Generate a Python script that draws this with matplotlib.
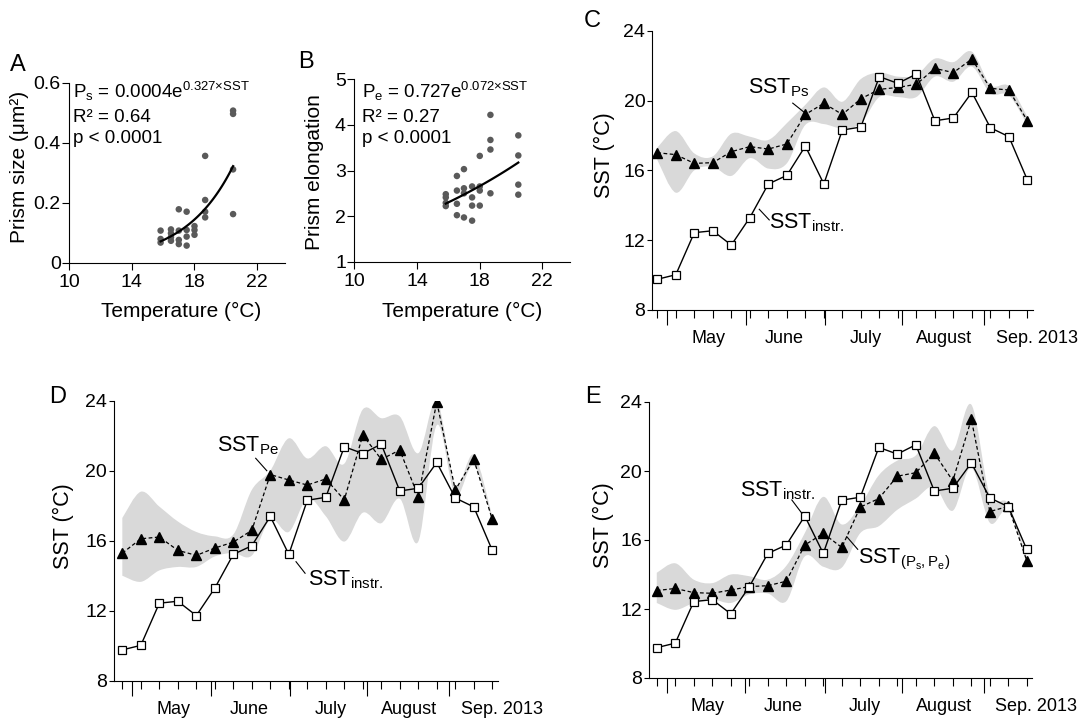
import numpy as np
import matplotlib
matplotlib.use("Agg")
import matplotlib.pyplot as plt
from matplotlib.path import Path
from matplotlib.patches import PathPatch

plt.rcParams['font.family'] = ['Liberation Sans', 'DejaVu Sans']
plt.rcParams['mathtext.fontset'] = 'custom'
plt.rcParams['mathtext.rm'] = 'Liberation Sans'
plt.rcParams['mathtext.it'] = 'Liberation Sans'
plt.rcParams['mathtext.bf'] = 'Liberation Sans:bold'
plt.rcParams['mathtext.default'] = 'regular'

# --- prism size / elongation vs. temperature ---
temp_size = [15.84, 15.84, 15.84, 16.5, 16.5, 16.5, 16.5, 17.0, 17.0, 17.0, 17.0,
             17.5, 17.5, 17.5, 17.5, 18.0, 18.0, 18.0, 18.68, 18.68, 18.68, 18.68,
             20.46, 20.46, 20.46, 20.46]
prism_size = [0.107, 0.079, 0.067, 0.111, 0.098, 0.085, 0.073, 0.178, 0.107, 0.076, 0.062,
              0.170, 0.109, 0.087, 0.057, 0.122, 0.109, 0.093, 0.356, 0.209, 0.170, 0.151,
              0.507, 0.496, 0.311, 0.162]

temp_elong = [15.84, 15.84, 15.84, 15.84, 16.55, 16.55, 16.55, 16.55, 17.0, 17.0, 17.0, 17.0,
              17.52, 17.52, 17.52, 17.52, 18.01, 18.01, 18.01, 18.01, 18.69, 18.69, 18.69, 18.69,
              20.47, 20.47, 20.47, 20.47]
prism_elong = [2.48, 2.41, 2.29, 2.22, 2.88, 2.56, 2.27, 2.02, 3.03, 2.61, 2.50, 1.97,
               2.65, 2.41, 2.23, 1.90, 3.32, 2.65, 2.56, 2.23, 4.22, 3.67, 3.46, 2.50,
               3.77, 3.33, 2.69, 2.47]

# exponential fits: P = a * exp(b * SST)
fit_size = (0.0004, 0.327)
fit_elong = (0.727, 0.072)

# --- weekly SST series, April - September 2013 ---
weeks = np.arange(21)
sst_instr = [9.76, 10.02, 12.43, 12.54, 11.72, 13.29, 15.22, 15.71, 17.39, 15.22, 18.31,
             18.48, 21.37, 20.98, 21.52, 18.84, 19.00, 20.47, 18.44, 17.93, 15.45]

sst_ps = [17.01, 16.90, 16.40, 16.44, 17.07, 17.36, 17.22, 17.51, 19.20, 19.84, 19.20,
          20.10, 20.64, 20.75, 20.93, 21.84, 21.60, 22.38, 20.70, 20.60, 18.84]
ps_hi = [17.30, 18.25, 16.97, 16.80, 18.10, 17.93, 17.74, 18.70, 19.75, 20.75, 19.93,
         21.23, 21.60, 21.37, 21.46, 22.40, 22.20, 22.80, 20.89, 20.83, 19.07]
ps_lo = [16.60, 14.72, 16.00, 16.20, 15.68, 16.70, 16.10, 16.40, 18.60, 18.65, 18.40,
         18.70, 20.20, 20.20, 20.20, 21.37, 21.08, 21.94, 20.41, 20.30, 18.60]

sst_pe = [15.29, 16.11, 16.21, 15.45, 15.16, 15.58, 15.92, 16.59, 19.78, 19.47, 19.18,
          19.53, 18.33, 22.04, 20.65, 21.18, 18.52, 23.94, 18.90, 20.65, 17.22]
pe_hi = [17.30, 18.80, 17.95, 17.10, 16.50, 16.25, 16.35, 18.90, 20.00, 21.85, 20.70,
         21.40, 20.40, 23.50, 23.00, 23.10, 21.00, 24.00, 19.20, 20.90, 17.40]
pe_lo = [14.00, 13.65, 14.30, 14.50, 14.50, 15.10, 15.30, 15.15, 17.20, 16.50, 18.40,
         17.40, 15.95, 17.60, 17.00, 18.40, 15.95, 22.60, 18.60, 20.30, 17.10]

sst_pspe = [13.07, 13.19, 12.95, 12.91, 13.10, 13.30, 13.35, 13.61, 15.71, 16.38, 15.57,
            17.91, 18.40, 19.70, 19.90, 21.03, 19.43, 23.00, 17.65, 17.95, 14.79]
pspe_hi = [14.10, 14.65, 13.70, 13.50, 14.00, 13.90, 13.70, 14.50, 16.40, 18.50, 16.90,
           18.00, 19.75, 20.60, 20.90, 22.60, 21.20, 23.85, 18.60, 18.10, 15.00]
pspe_lo = [12.35, 11.95, 12.35, 12.55, 12.35, 12.85, 12.90, 12.45, 15.05, 14.45, 14.40,
           16.40, 16.80, 17.75, 18.40, 19.10, 17.70, 20.20, 17.00, 17.70, 14.60]

month_edges = [0.54, 4.77, 9.09, 13.25, 17.68]
month_names = ['May', 'June', 'July', 'August', 'Sep. 2013']
month_mid = [2.75, 6.85, 11.25, 15.5, 20.5]

W, H = 1081, 722
fig = plt.figure(figsize=(W / 100, H / 100), dpi=100)


def px_axes(left, right, top, bottom):
    ax = fig.add_axes([left / W, 1 - bottom / H, (right - left) / W, (bottom - top) / H])
    for s in ('top', 'right'):
        ax.spines[s].set_visible(False)
    for s in ('left', 'bottom'):
        ax.spines[s].set_linewidth(0.8)
    ax.tick_params(direction='out', width=0.8, length=3.5, labelsize=14, pad=1.5)
    return ax


def smooth_band(ax, x, lo, hi, color='#d9d9d9'):
    # closed Catmull-Rom outline through the upper and lower limits
    def bezier(pts):
        verts, codes = [], []
        n = len(pts)
        for k in range(n - 1):
            p0 = pts[max(k - 1, 0)]
            p1 = pts[k]
            p2 = pts[k + 1]
            p3 = pts[min(k + 2, n - 1)]
            verts += [p1 + (p2 - p0) / 6, p2 - (p3 - p1) / 6, p2]
            codes += [Path.CURVE4] * 3
        return verts, codes

    top = np.column_stack([x, hi]).astype(float)
    bot = np.column_stack([x, lo]).astype(float)[::-1]
    v1, c1 = bezier(top)
    v2, c2 = bezier(bot)
    verts = [top[0]] + v1 + [bot[0]] + v2 + [top[0]]
    codes = [Path.MOVETO] + c1 + [Path.LINETO] + c2 + [Path.CLOSEPOLY]
    ax.add_patch(PathPatch(Path(verts, codes), facecolor=color, edgecolor='none', zorder=1))


def time_panel(ax, proxy, lo, hi, xlim):
    smooth_band(ax, weeks, lo, hi)
    ax.plot(weeks, proxy, color='k', lw=0.9, ls=(0, (3, 2)), marker='^', ms=6.5,
            mfc='k', mec='k', zorder=3)
    ax.plot(weeks, sst_instr, color='k', lw=1.0, marker='s', ms=5.5, mfc='white',
            mec='k', mew=0.9, zorder=4)
    ax.set_xlim(*xlim)
    ax.set_ylim(8, 24)
    ax.set_yticks([8, 12, 16, 20, 24])
    ax.set_xticks(month_edges)
    ax.set_xticklabels([])
    ax.set_xticks(weeks, minor=True)
    ax.tick_params(axis='x', which='major', length=11, width=0.8)
    ax.tick_params(axis='x', which='minor', length=5.5, width=0.8)
    for name, pos in zip(month_names, month_mid):
        ax.annotate(name, xy=(pos, 0), xycoords=ax.get_xaxis_transform(),
                    xytext=(0, -33), textcoords='offset pixels',
                    ha='center', va='baseline', fontsize=13)


def callout(ax, text, xy, line):
    ax.text(xy[0], xy[1], text, fontsize=15.5, ha='left', va='baseline', zorder=5)
    (x0, y0), (x1, y1) = line
    ax.plot([x0, x1], [y0, y1], color='k', lw=0.8, zorder=5)


# panel A
ax_a = px_axes(69, 285, 82.7, 262.7)
ax_a.scatter(temp_size, prism_size, s=22, color='#5a5a5a', edgecolors='none', zorder=2)
t = np.linspace(min(temp_size), max(temp_size), 60)
ax_a.plot(t, fit_size[0] * np.exp(fit_size[1] * t), color='k', lw=1.6, zorder=3)
ax_a.set_xlim(10, 23.77)
ax_a.set_ylim(0, 0.6)
ax_a.set_xticks([10, 14, 18, 22])
ax_a.set_yticks([0, 0.2, 0.4, 0.6])
ax_a.set_yticklabels(['0', '0.2', '0.4', '0.6'])
ax_a.tick_params(axis='x', length=5, pad=3)
ax_a.tick_params(axis='y', length=5, pad=1)
fig.text(73 / W, 1 - 98.3 / H, r'P$_{s}$ = 0.0004e$^{0.327×SST}$', fontsize=13.5, va='baseline')
fig.text(73 / W, 1 - 121.7 / H, 'R² = 0.64', fontsize=13.5, va='baseline')
fig.text(73 / W, 1 - 143.3 / H, 'p < 0.0001', fontsize=13.5, va='baseline')
fig.text(20 / W, 1 - 167 / H, 'Prism size (μm²)', rotation=90, fontsize=15,
         ha='center', va='center')
fig.text(181 / W, 1 - 311 / H, 'Temperature (°C)', fontsize=15, ha='center', va='center')

# panel B
ax_b = px_axes(354.3, 570, 79.3, 261.7)
ax_b.scatter(temp_elong, prism_elong, s=22, color='#5a5a5a', edgecolors='none', zorder=2)
t = np.linspace(min(temp_elong), max(temp_elong), 60)
ax_b.plot(t, fit_elong[0] * np.exp(fit_elong[1] * t), color='k', lw=1.6, zorder=3)
ax_b.set_xlim(10, 23.77)
ax_b.set_ylim(1, 5)
ax_b.set_xticks([10, 14, 18, 22])
ax_b.set_yticks([1, 2, 3, 4, 5])
ax_b.tick_params(axis='x', length=5, pad=3)
ax_b.tick_params(axis='y', length=5, pad=1)
fig.text(361.7 / W, 1 - 98.3 / H, r'P$_{e}$ = 0.727e$^{0.072×SST}$', fontsize=13.5, va='baseline')
fig.text(361.7 / W, 1 - 121.7 / H, 'R² = 0.27', fontsize=13.5, va='baseline')
fig.text(361.7 / W, 1 - 143.3 / H, 'p < 0.0001', fontsize=13.5, va='baseline')
fig.text(314 / W, 1 - 172 / H, 'Prism elongation', rotation=90, fontsize=15,
         ha='center', va='center')
fig.text(462.5 / W, 1 - 311 / H, 'Temperature (°C)', fontsize=15, ha='center', va='center')

# panel C
ax_c = px_axes(652.3, 1033.3, 30.7, 310)
time_panel(ax_c, sst_ps, ps_lo, ps_hi, (-0.27, 20.32))
callout(ax_c, r'SST$_{Ps}$', (4.9, 20.41), ((7.32, 19.85), (7.98, 19.29)))
callout(ax_c, r'SST$_{instr.}$', (6.04, 12.68), ((5.51, 13.77), (6.05, 13.16)))
fig.text(604.7 / W, 1 - 155 / H, 'SST (°C)', rotation=90, fontsize=15.5,
         ha='center', va='center')

# panel D
ax_d = px_axes(114, 498, 400.7, 680.7)
time_panel(ax_d, sst_pe, pe_lo, pe_hi, (-0.45, 20.31))
callout(ax_d, r'SST$_{Pe}$', (5.12, 21.09), ((7.21, 20.71), (7.81, 20.0)))
callout(ax_d, r'SST$_{instr.}$', (10.04, 13.47), ((9.39, 14.8), (9.88, 14.14)))
fig.text(63 / W, 1 - 526 / H, 'SST (°C)', rotation=90, fontsize=15.5,
         ha='center', va='center')

# panel E
ax_e = px_axes(649, 1032, 402, 678)
time_panel(ax_e, sst_pspe, pspe_lo, pspe_hi, (-0.42, 20.28))
callout(ax_e, r'SST$_{instr.}$', (4.5, 18.51), ((7.3, 18.32), (7.84, 17.55)))
callout(ax_e, r'SST$_{(P_s,P_e)}$', (10.88, 14.65), ((10.27, 16.19), (10.86, 15.46)))
fig.text(603 / W, 1 - 525 / H, 'SST (°C)', rotation=90, fontsize=15.5,
         ha='center', va='center')

# panel letters
for letter, (x, y) in zip('ABCDE', [(10, 71), (298, 68), (584, 27), (49, 403), (585, 403)]):
    fig.text(x / W, 1 - y / H, letter, fontsize=17, va='baseline')

fig.savefig('out.png', dpi=100)
